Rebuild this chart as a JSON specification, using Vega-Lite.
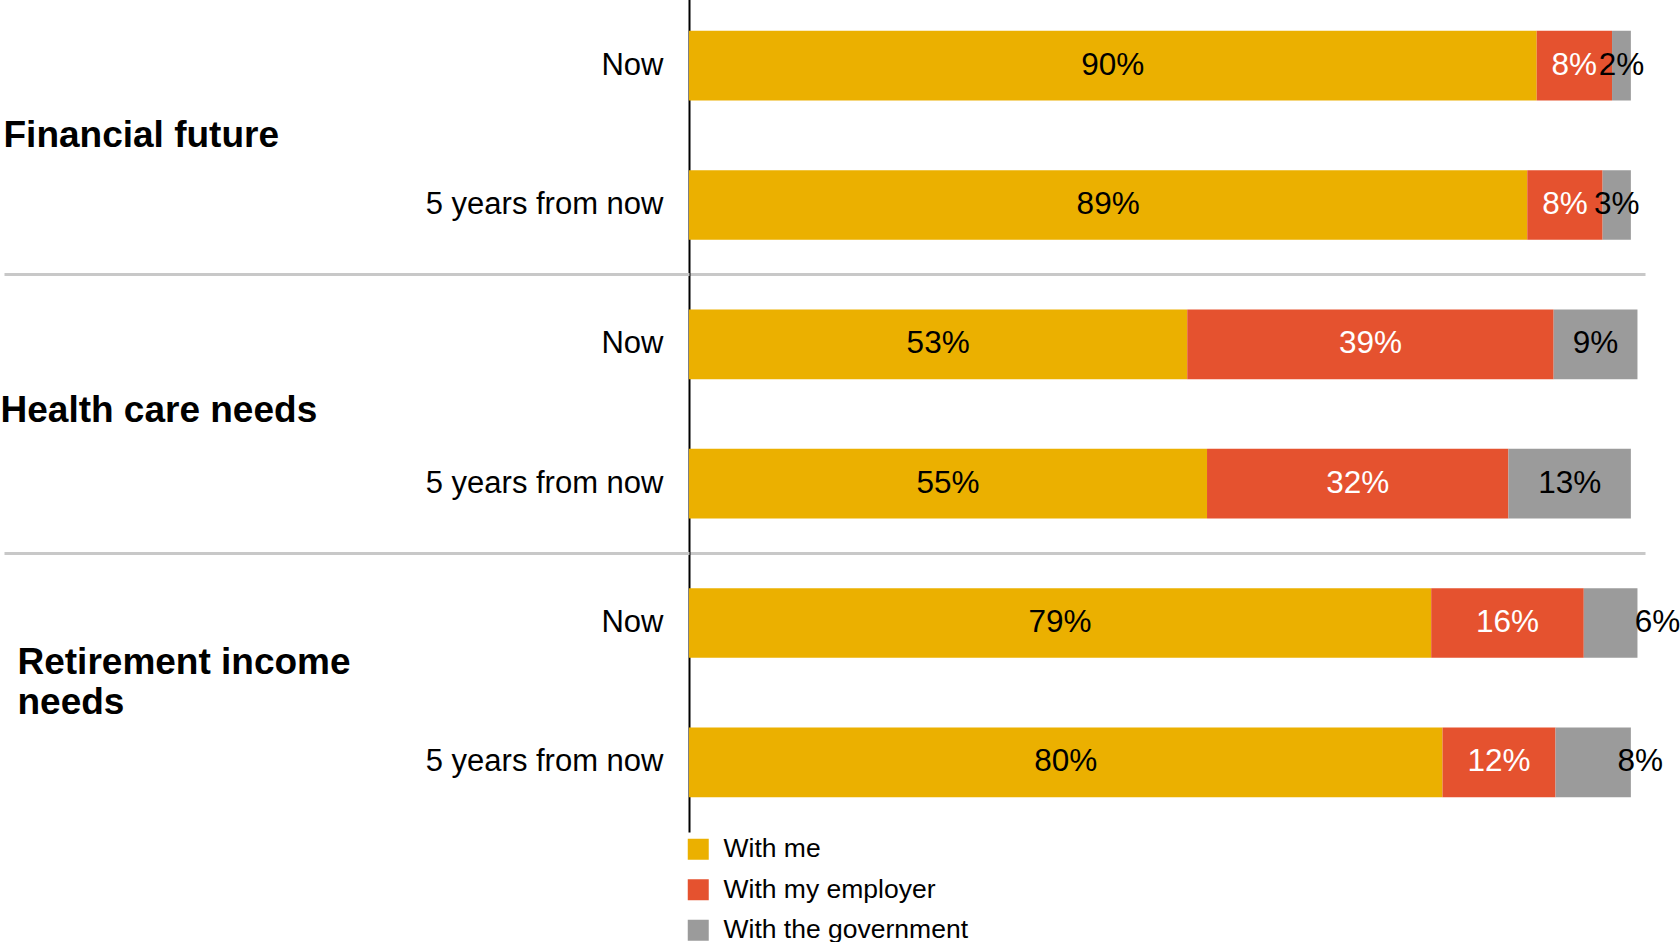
{
  "$schema": "https://vega.github.io/schema/vega-lite/v6.json",
  "width": 956,
  "height": 836,
  "padding": {"left": 0, "top": -6, "right": 0, "bottom": 0},
  "background": "white",
  "config": {"font": "Liberation Sans", "view": {"stroke": null}},
  "data": {
    "values": [
      {"group": "Financial future", "row": "Financial future|Now", "series": "With me", "value": 0.90},
      {"group": "Financial future", "row": "Financial future|Now", "series": "With my employer", "value": 0.08},
      {"group": "Financial future", "row": "Financial future|Now", "series": "With the government", "value": 0.02},
      {"group": "Financial future", "row": "Financial future|5 years from now", "series": "With me", "value": 0.89},
      {"group": "Financial future", "row": "Financial future|5 years from now", "series": "With my employer", "value": 0.08},
      {"group": "Financial future", "row": "Financial future|5 years from now", "series": "With the government", "value": 0.03},
      {"group": "Health care needs", "row": "Health care needs|Now", "series": "With me", "value": 0.529},
      {"group": "Health care needs", "row": "Health care needs|Now", "series": "With my employer", "value": 0.389},
      {"group": "Health care needs", "row": "Health care needs|Now", "series": "With the government", "value": 0.089},
      {"group": "Health care needs", "row": "Health care needs|5 years from now", "series": "With me", "value": 0.55},
      {"group": "Health care needs", "row": "Health care needs|5 years from now", "series": "With my employer", "value": 0.32},
      {"group": "Health care needs", "row": "Health care needs|5 years from now", "series": "With the government", "value": 0.13},
      {"group": "Retirement income needs", "row": "Retirement income needs|Now", "series": "With me", "value": 0.788},
      {"group": "Retirement income needs", "row": "Retirement income needs|Now", "series": "With my employer", "value": 0.162},
      {"group": "Retirement income needs", "row": "Retirement income needs|Now", "series": "With the government", "value": 0.057},
      {"group": "Retirement income needs", "row": "Retirement income needs|5 years from now", "series": "With me", "value": 0.80},
      {"group": "Retirement income needs", "row": "Retirement income needs|5 years from now", "series": "With my employer", "value": 0.12},
      {"group": "Retirement income needs", "row": "Retirement income needs|5 years from now", "series": "With the government", "value": 0.08}
    ]
  },
  "layer": [
    {
      "encoding": {
        "y": {
          "field": "row", "type": "nominal",
          "sort": ["Financial future|Now", "Financial future|5 years from now", "Health care needs|Now", "Health care needs|5 years from now", "Retirement income needs|Now", "Retirement income needs|5 years from now"],
          "scale": {"paddingInner": 0.5, "paddingOuter": 0.25},
          "axis": {
            "orient": "left", "title": null, "labelExpr": "split(datum.label, '|')[1]",
            "ticks": false, "labelPadding": 26, "labelFontSize": 31, "labelColor": "black",
            "labelFont": "Liberation Sans", "labelLimit": 0, "labelOverlap": false,
            "domainColor": "black", "domainWidth": 2, "grid": false
          }
        },
        "x": {"field": "value", "type": "quantitative", "stack": "zero", "scale": {"domain": [0, 1.015]}, "axis": null},
        "order": {"field": "series", "type": "nominal"}
      },
      "layer": [
        {
          "mark": {"type": "bar"},
          "encoding": {
            "color": {
              "field": "series", "type": "nominal",
              "scale": {"domain": ["With me", "With my employer", "With the government"], "range": ["#EBB000", "#E5522F", "#9B9B9B"]},
              "legend": {
                "title": null, "orient": "none", "legendX": -4, "legendY": 840, "direction": "vertical",
                "symbolType": "square", "symbolSize": 441, "symbolStrokeWidth": 0,
                "labelFontSize": 26.5, "labelColor": "black", "labelFont": "Liberation Sans",
                "labelOffset": 12, "rowPadding": 13.5, "labelLimit": 0
              }
            }
          }
        },
        {
          "mark": {
            "type": "text", "fontSize": 31.5, "font": "Liberation Sans", "baseline": "middle", "align": "center",
            "dx": {"expr": "datum.group == 'Retirement income needs' && datum.series == 'With the government' ? 47 : 0"}
          },
          "encoding": {
            "x": {"field": "value", "type": "quantitative", "stack": "zero", "bandPosition": 0.5},
            "detail": {"field": "series", "type": "nominal"},
            "text": {"field": "value", "type": "quantitative", "format": ".0%"},
            "color": {"condition": {"test": "datum.series == 'With my employer'", "value": "white"}, "value": "black"}
          }
        }
      ]
    },
    {
      "mark": {"type": "rule", "strokeOpacity": 0},
      "encoding": {
        "y": {
          "field": "group", "type": "nominal",
          "sort": ["Financial future", "Health care needs", "Retirement income needs"],
          "scale": {"paddingInner": 0, "paddingOuter": 0},
          "axis": {
            "orient": "left", "title": null, "domain": false,
            "ticks": true, "tickSize": 685, "tickColor": "#C8C8C8", "tickWidth": 3,
            "grid": true, "gridColor": "#C8C8C8", "gridWidth": 3,
            "bandPosition": 0, "tickExtra": false,
            "labelAlign": "left", "labelBaseline": "middle", "labelFontSize": 37, "labelFontWeight": "bold",
            "labelColor": "black", "labelFont": "Liberation Sans", "labelLimit": 0, "labelLineHeight": 40, "labelOverlap": false,
            "labelPadding": {"condition": [{"test": "datum.value == 'Financial future'", "value": 1}, {"test": "datum.value == 'Retirement income needs'", "value": -13}], "value": 4},
            "labelOffset": {"condition": [{"test": "datum.value == 'Retirement income needs'", "value": -30}, {"test": "datum.value == 'Health care needs'", "value": -3}], "value": 1},
            "labelExpr": "datum.value == 'Retirement income needs' ? ['Retirement income', 'needs'] : datum.label"
          }
        }
      }
    }
  ],
  "resolve": {"scale": {"y": "independent"}, "axis": {"y": "independent"}}
}
